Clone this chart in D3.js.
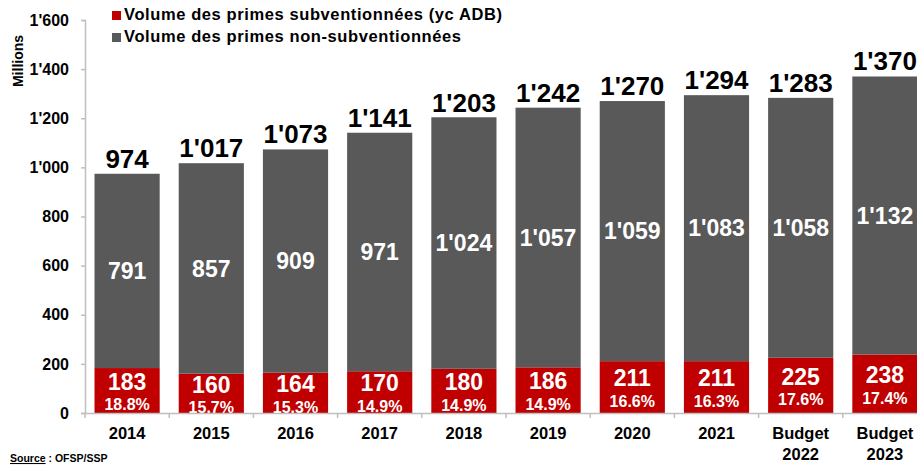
<!DOCTYPE html>
<html><head><meta charset="utf-8">
<script src="https://cdn.jsdelivr.net/npm/d3@7"></script>
<style>body{margin:0;background:#fff;} svg{display:block;font-family:"Liberation Sans",Arial,sans-serif;}</style>
</head><body>
<svg id="c" width="917" height="466"></svg>
<script>
const categories = ["2014","2015","2016","2017","2018","2019","2020","2021","Budget\n2022","Budget\n2023"];
const subsidised = [183,160,164,170,180,186,211,211,225,238];
const nonSubsidised = [791,857,909,971,1024,1057,1059,1083,1058,1132];
const totals = [974,1017,1073,1141,1203,1242,1270,1294,1283,1370];
const shares = ["18.8%","15.7%","15.3%","14.9%","14.9%","14.9%","16.6%","16.3%","17.6%","17.4%"];
const yTicks = [0,200,400,600,800,1000,1200,1400,1600];
const seriesNames = ["Volume des primes subventionnées (yc ADB)","Volume des primes non-subventionnées"];
const colors = ["#C00000","#595959"];

const fmt = v => { const s = String(v); return s.length > 3 ? s.slice(0, s.length-3) + "'" + s.slice(-3) : s; };

const svg = d3.select("#c");
const x = d3.scaleBand().domain(categories).range([85, 927]).paddingInner(0.226).paddingOuter(0.113);
const xb = d3.scaleBand().domain(categories).range([85, 927]);
const y = d3.scaleLinear().domain([0,1600]).range([413, 20]);

// y axis
const ya = svg.append("g").attr("transform","translate(85,0)")
  .call(d3.axisLeft(y).tickValues(yTicks).tickFormat(fmt).tickSizeOuter(0).tickSize(4).tickPadding(12));
ya.select(".domain").attr("stroke","#BFBFBF").attr("stroke-width",1.5);
ya.selectAll(".tick line").attr("stroke","#BFBFBF").attr("stroke-width",1.5);
ya.selectAll("text").attr("font-size",16).attr("font-weight","bold").attr("fill","#000")
  .attr("font-family","Liberation Sans, Arial, sans-serif");

// bars
const g = svg.append("g");
categories.forEach((c,i) => {
  g.append("rect").attr("x", x(c)).attr("width", x.bandwidth())
    .attr("y", y(subsidised[i])).attr("height", y(0)-y(subsidised[i])).attr("fill", colors[0]);
  g.append("rect").attr("x", x(c)).attr("width", x.bandwidth())
    .attr("y", y(subsidised[i]+nonSubsidised[i])).attr("height", y(subsidised[i]) - y(subsidised[i]+nonSubsidised[i])).attr("fill", colors[1]);
});

// labels
const lab = svg.append("g").attr("text-anchor","middle").attr("font-weight","bold");
categories.forEach((c,i) => {
  const cx = x(c)+x.bandwidth()/2;
  lab.append("text").attr("x",cx).attr("y", y(totals[i]) - 6).attr("font-size",26).attr("fill","#000").text(fmt(totals[i]));
  const gm = (y(subsidised[i]) + y(subsidised[i]+nonSubsidised[i]))/2;
  lab.append("text").attr("x",cx).attr("y", gm).attr("dy","0.36em").attr("font-size",23).attr("fill","#fff").text(fmt(nonSubsidised[i]));
  const rm = (y(0)+y(subsidised[i]))/2;
  lab.append("text").attr("x",cx).attr("y", rm - 9).attr("dy","0.36em").attr("font-size",23).attr("fill","#fff").text(fmt(subsidised[i]));
  lab.append("text").attr("x",cx).attr("y", rm + 14).attr("dy","0.36em").attr("font-size",16).attr("fill","#fff").text(shares[i]);
});

// x axis (drawn over the labels, like the reference)
const xa = svg.append("g").attr("transform","translate(0,413)")
  .call(d3.axisBottom(xb).tickSize(0).tickFormat(""));
xa.select(".domain").attr("stroke","#BFBFBF").attr("stroke-width",1.5);
xa.selectAll(".tick").remove();
categories.forEach((c) => {
  xa.append("line").attr("x1", xb(c)).attr("x2", xb(c)).attr("y1",0).attr("y2",5).attr("stroke","#BFBFBF").attr("stroke-width",1.5);
});
categories.forEach((c) => {
  const lines = c.split("\n");
  const t = svg.append("text").attr("text-anchor","middle").attr("font-size",16.5).attr("font-weight","bold").attr("fill","#000");
  lines.forEach((l,j) => t.append("tspan").attr("x", x(c)+x.bandwidth()/2).attr("y", 439 + j*21).text(l));
});

// y title
svg.append("text").attr("transform","translate(23,61) rotate(-90)").attr("text-anchor","middle")
  .attr("font-size",14).attr("font-weight","bold").text("Millions");

// legend
const leg = svg.append("g");
seriesNames.forEach((n,i) => {
  leg.append("rect").attr("x",112).attr("y", 11 + i*22).attr("width",9).attr("height",9).attr("fill",colors[i]);
  leg.append("text").attr("x",124).attr("y", 20 + i*22).attr("font-size",16.5).attr("letter-spacing",0.6).attr("font-weight","bold").text(n);
});

// source
const src = svg.append("text").attr("x",10).attr("y",462).attr("font-size",10.5).attr("font-weight","bold");
src.append("tspan").attr("text-decoration","underline").text("Source");
src.append("tspan").text(" : OFSP/SSP");
</script>
</body></html>
